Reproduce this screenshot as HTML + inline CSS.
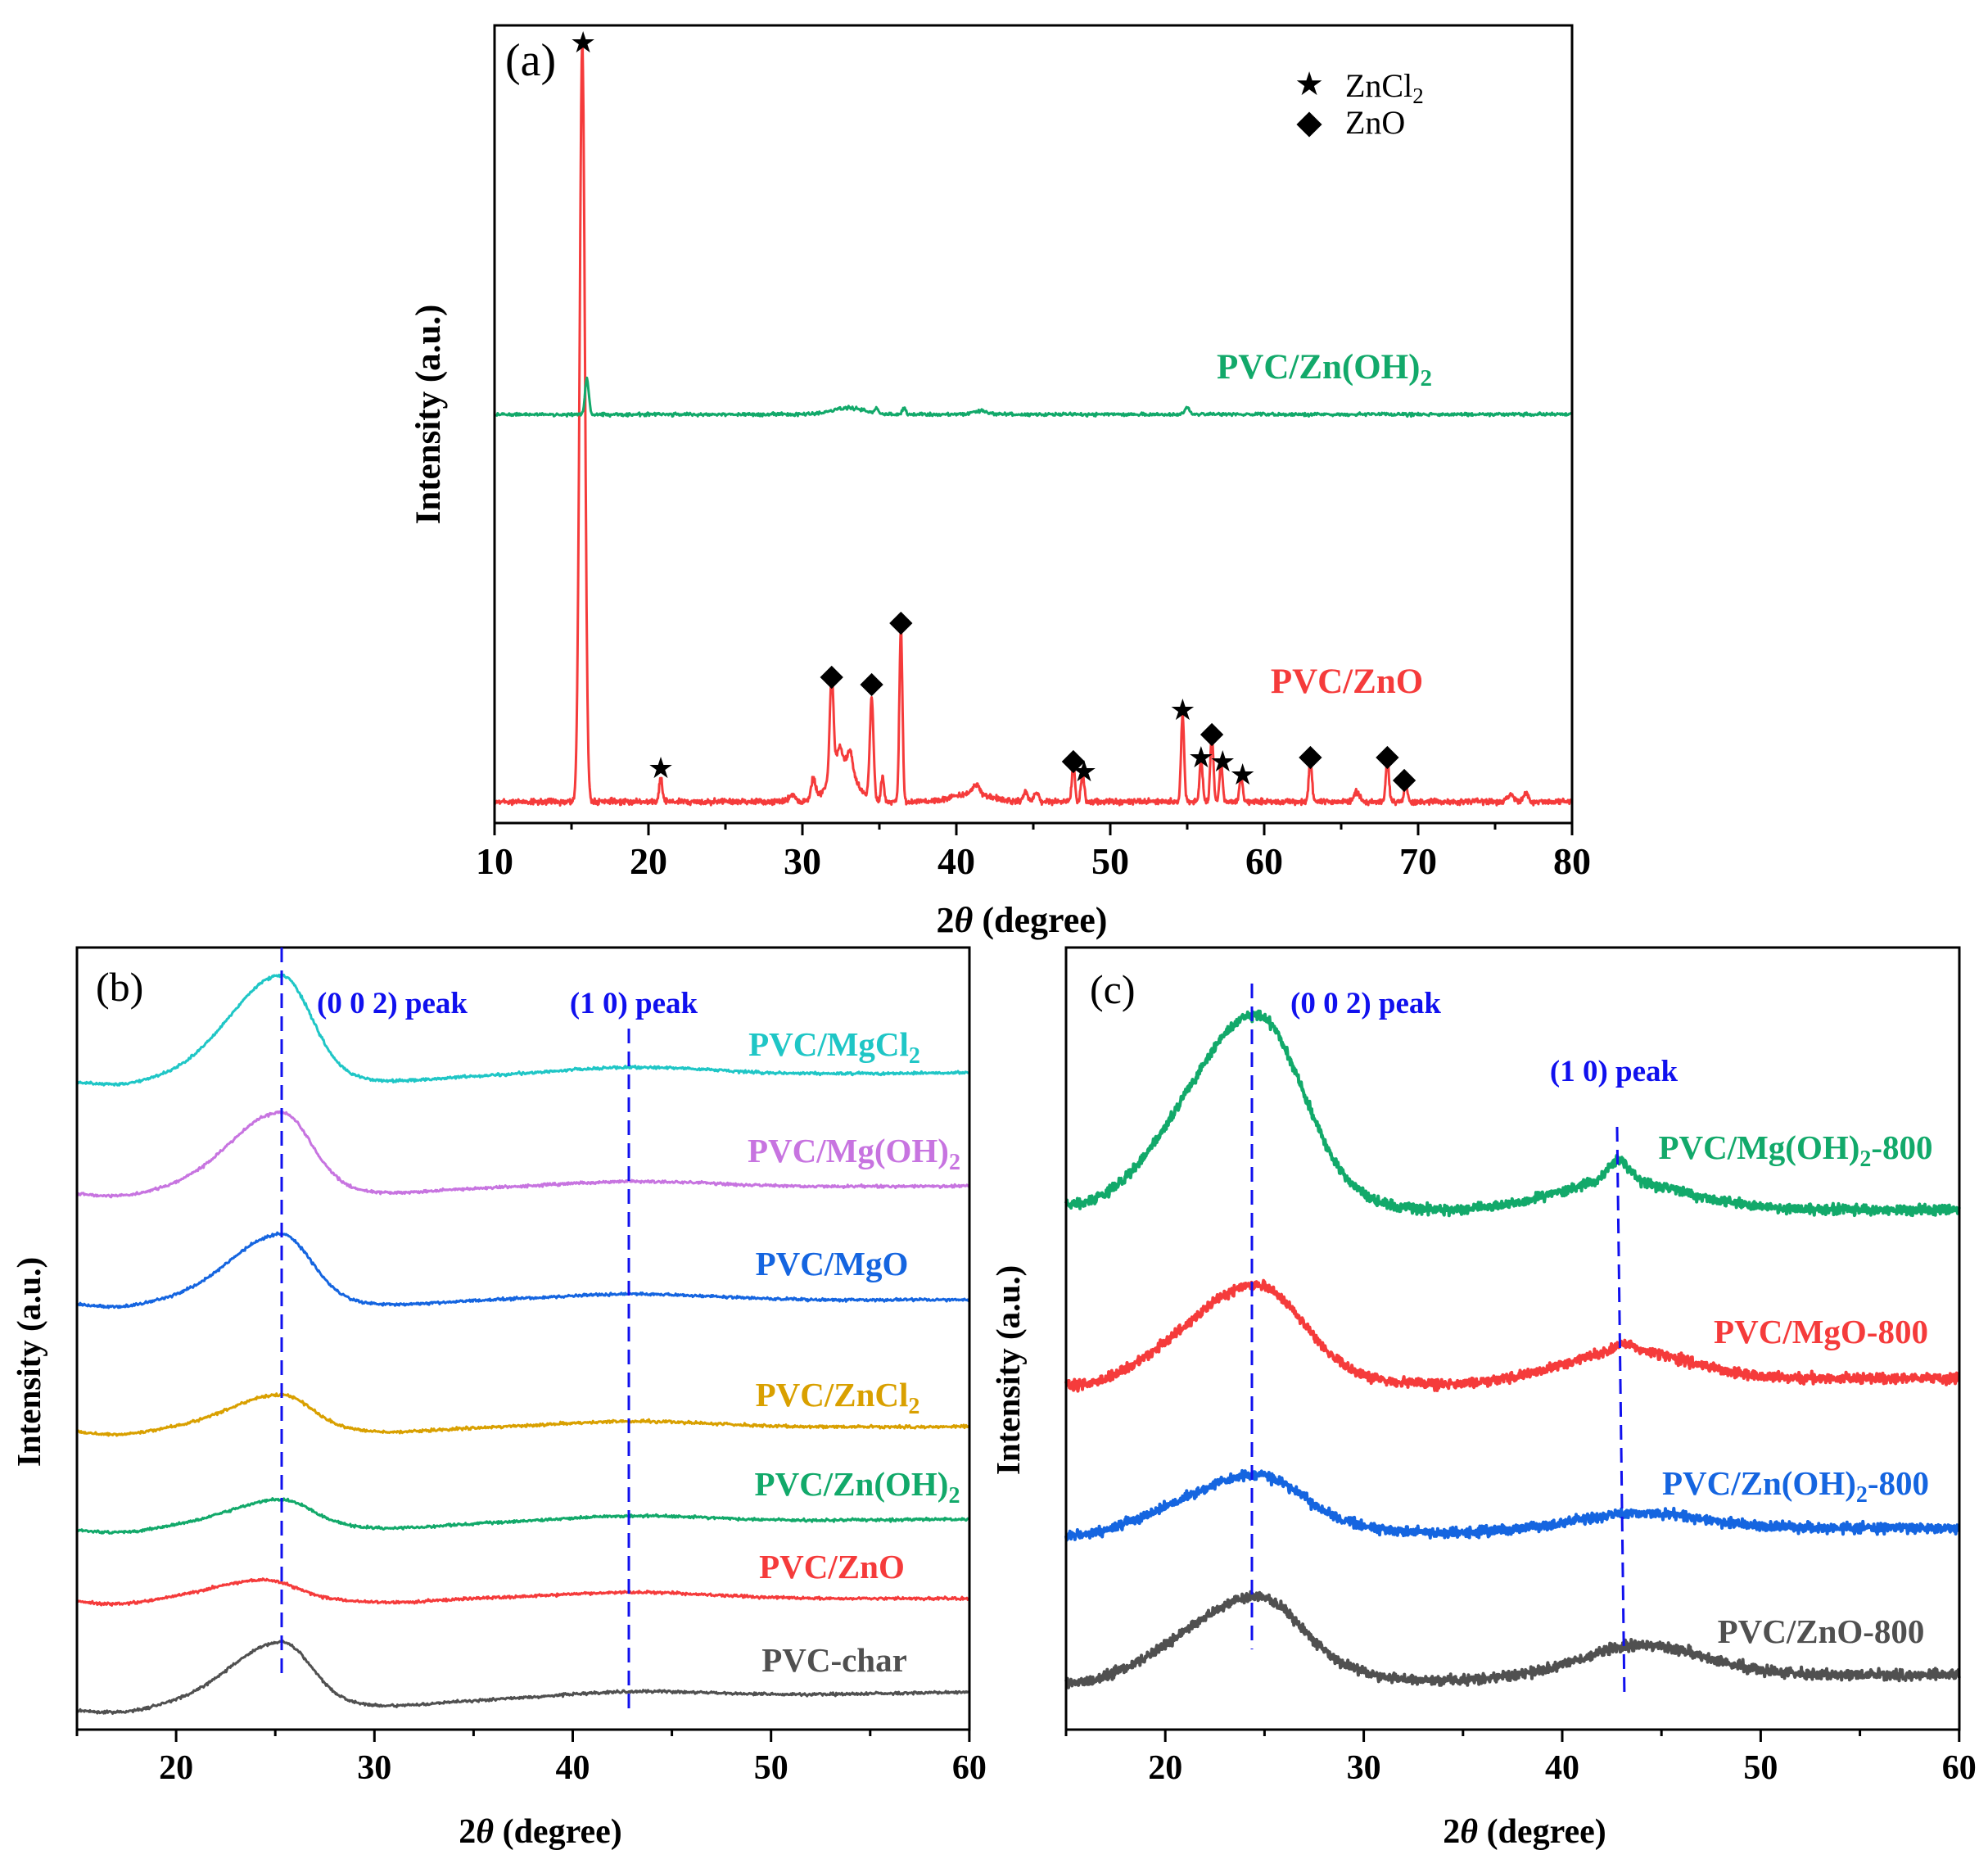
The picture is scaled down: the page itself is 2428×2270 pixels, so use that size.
<!DOCTYPE html>
<html><head><meta charset="utf-8"><style>
html,body{margin:0;padding:0;background:#fff;}
svg{display:block;}
text{font-family:"Liberation Serif",serif;}
</style></head><body>
<svg id="s" width="2428" height="2270" viewBox="0 0 2428 2270" xmlns="http://www.w3.org/2000/svg">
<g id="curves"></g>
<rect x="604" y="31" width="1316" height="974" fill="none" stroke="#000" stroke-width="3"/>
<g id="ta"></g>
<text x="617" y="92" font-size="56">(a)</text>
<text x="1599" y="116" font-size="40" text-anchor="middle">★</text>
<rect x="1588" y="141" width="22" height="22" transform="rotate(45 1599 152)" fill="#000"/>
<text x="1643" y="118" font-size="40">ZnCl<tspan font-size="27" dy="8">2</tspan></text>
<text x="1643" y="163" font-size="40">ZnO</text>
<text x="1486" y="462" font-size="43" font-weight="bold" fill="#12a96a">PVC/Zn(OH)<tspan font-size="29" dy="9">2</tspan></text>
<text x="1645" y="846" font-size="43" font-weight="bold" fill="#f53b3b" text-anchor="middle">PVC/ZnO</text>
<text x="1248" y="1138" font-size="44" font-weight="bold" text-anchor="middle">2<tspan font-style="italic">θ</tspan> (degree)</text>
<text transform="translate(537 506) rotate(-90)" font-size="43" font-weight="bold" text-anchor="middle">Intensity (a.u.)</text>
<rect x="94" y="1157" width="1090" height="955" fill="none" stroke="#000" stroke-width="3"/>
<g id="tb"></g>
<line x1="344" y1="1157" x2="344" y2="2047" stroke="#1010ee" stroke-width="3" stroke-dasharray="18,10"/>
<line x1="768" y1="1256" x2="768" y2="2095" stroke="#1010ee" stroke-width="3" stroke-dasharray="18,10"/>
<text x="117" y="1222" font-size="50">(b)</text>
<text x="479" y="1237" font-size="37" font-weight="bold" fill="#1010ee" text-anchor="middle">(0 0 2) peak</text>
<text x="774" y="1237" font-size="37" font-weight="bold" fill="#1010ee" text-anchor="middle">(1 0) peak</text>
<g font-size="41" font-weight="bold" text-anchor="middle">
<text x="1019" y="1289" fill="#1fc6c6">PVC/MgCl<tspan font-size="28" dy="9">2</tspan></text>
<text x="1043" y="1419" fill="#c774e0">PVC/Mg(OH)<tspan font-size="28" dy="9">2</tspan></text>
<text x="1016" y="1557" fill="#1565e0">PVC/MgO</text>
<text x="1023" y="1717" fill="#d9a000">PVC/ZnCl<tspan font-size="28" dy="9">2</tspan></text>
<text x="1047" y="1826" fill="#12a96a">PVC/Zn(OH)<tspan font-size="28" dy="9">2</tspan></text>
<text x="1016" y="1927" fill="#f53b3b">PVC/ZnO</text>
<text x="1019" y="2041" fill="#505050">PVC-char</text>
</g>
<text x="660" y="2250" font-size="42" font-weight="bold" text-anchor="middle">2<tspan font-style="italic">θ</tspan> (degree)</text>
<text transform="translate(49 1663) rotate(-90)" font-size="41" font-weight="bold" text-anchor="middle">Intensity (a.u.)</text>
<rect x="1302" y="1157" width="1091" height="955" fill="none" stroke="#000" stroke-width="3"/>
<g id="tc"></g>
<line x1="1529" y1="1201" x2="1529" y2="2014" stroke="#1010ee" stroke-width="3" stroke-dasharray="18,10"/>
<line x1="1975" y1="1376" x2="1984" y2="2075" stroke="#1010ee" stroke-width="3" stroke-dasharray="18,10"/>
<text x="1331" y="1225" font-size="50">(c)</text>
<text x="1668" y="1237" font-size="37" font-weight="bold" fill="#1010ee" text-anchor="middle">(0 0 2) peak</text>
<text x="1971" y="1320" font-size="37" font-weight="bold" fill="#1010ee" text-anchor="middle">(1 0) peak</text>
<g font-size="41" font-weight="bold" text-anchor="middle">
<text x="2193" y="1415" fill="#12a96a">PVC/Mg(OH)<tspan font-size="28" dy="9">2</tspan><tspan dy="-9">-800</tspan></text>
<text x="2224" y="1640" fill="#f53b3b">PVC/MgO-800</text>
<text x="2193" y="1825" fill="#1565e0">PVC/Zn(OH)<tspan font-size="28" dy="9">2</tspan><tspan dy="-9">-800</tspan></text>
<text x="2224" y="2006" fill="#505050">PVC/ZnO-800</text>
</g>
<text x="1862" y="2250" font-size="42" font-weight="bold" text-anchor="middle">2<tspan font-style="italic">θ</tspan> (degree)</text>
<text transform="translate(1245 1673) rotate(-90)" font-size="41" font-weight="bold" text-anchor="middle">Intensity (a.u.)</text>
<g id="marks"></g>
</svg>
<script>
var NS="http://www.w3.org/2000/svg";
var seed=12345;function rnd(){seed=(seed*1103515245+12345)%2147483648;return seed/2147483648;}
function nz(){return (rnd()+rnd()+rnd()-1.5)/1.5;}
function el(g,tag,attrs,txt){var e=document.createElementNS(NS,tag);for(var k in attrs)e.setAttribute(k,attrs[k]);if(txt!==undefined)e.textContent=txt;document.getElementById(g).appendChild(e);return e;}
function G(x,c,s){return Math.exp(-(x-c)*(x-c)/(2*s*s));}
function AG(x,c,sl,sr){return G(x,c,x<c?sl:sr);}
function curve(x0,x1,px0,ppd,n,f,color,w){var d="";for(var i=0;i<=n;i++){var x=x0+(x1-x0)*i/n;var y=f(x);d+=(i?"L":"M")+(px0+(x-x0)*ppd).toFixed(1)+" "+y.toFixed(1);}
el("curves","path",{d:d,fill:"none",stroke:color,"stroke-width":w,"stroke-linejoin":"round"});}
function ticks(g,x0,x1,px0,ppd,y,step,fs,ly){for(var v=x0;v<=x1+1e-6;v+=step/2){var px=px0+(v-x0)*ppd;var maj=Math.abs(v/step-Math.round(v/step))<1e-6;el(g,"line",{x1:px,y1:y,x2:px,y2:y+(maj?15:8),stroke:"#000","stroke-width":3});if(maj)el(g,"text",{x:px,y:ly,"font-size":fs,"font-weight":"bold","text-anchor":"middle"},String(v));}}
ticks("ta",10,80,604,18.8,1005,10,46,1067);
ticks("tb",15,60,94,24.22,2112,10,42,2172);
ticks("tc",15,60,1302,24.24,2112,10,42,2172);
var pk=[[15.7,928,0.17],[20.8,30,0.1],[31.9,122,0.12],[34.5,125,0.12],[36.4,212,0.1],[47.6,44,0.1],[48.2,37,0.1],[54.7,107,0.1],[55.9,52,0.1],[56.6,81,0.1],[57.2,48,0.1],[58.5,33,0.1],[63.0,52,0.1],[68.0,52,0.1],[69.2,22,0.1],[30.7,25,0.15],[35.2,30,0.1],[41.3,12,0.2],[44.5,12,0.15],[45.2,12,0.15],[66.0,12,0.2],[76,8,0.2],[77,10,0.15],[29.3,8,0.2],[32.4,20,0.15],[33.1,22,0.15]];
curve(10,80,604,18.8,2400,function(x){var y=979+nz()*5;for(var i=0;i<pk.length;i++)y-=pk[i][1]*G(x,pk[i][0],pk[i][2]);y-=50*G(x,32.6,0.8)+10*G(x,41,1.2);return y;},"#f53b3b",3);
curve(10,80,604,18.8,1400,function(x){var y=506+nz()*3;y-=44*G(x,16,0.12)+8*G(x,33,1)+8*G(x,36.6,0.1)+6*G(x,34.8,0.1)+8*G(x,55,0.15)+4*G(x,41.5,0.5);return y;},"#12a96a",3);
var B=[[1319,1310,1183,"#1fc6c6"],[1455,1448,1350,"#c774e0"],[1590,1587,1499,"#1565e0"],[1746,1742,1695,"#d9a000"],[1866,1855,1823,"#12a96a"],[1953,1952,1921,"#f53b3b"],[2086,2066,1997,"#505050"]];
B.forEach(function(b,k){var c=(k==5?24.5:25.3);var base=function(x){return b[0]+(b[1]-b[0])*(x-15)/45;};var h=base(c)-b[2]-8;var bump=Math.max(8,(b[1]-b[2])*0.08);
curve(15,60,94,24.22,1100,function(x){var y=base(x)+nz()*2.5;y-=h*AG(x,c,2.6,1.5);y+=6*G(x,17,1.5)+4*G(x,31,2);y-=bump*G(x,43,4);return y;},b[3],3);});
var C=[[1467,1478,1235,1420,"#12a96a",42.8,1],[1685,1683,1565,1641,"#f53b3b",43.2,0.4],[1866,1866,1797,1848,"#1565e0",44,0],[2047,2045,1946,2008,"#505050",44,0]];
C.forEach(function(b){var base=function(x){return b[0]+(b[1]-b[0])*(x-15)/45;};var h=base(24.6)-b[2]-4;var bh=b[1]-b[3];
curve(15,60,1302,24.24,1800,function(x){var y=base(x)+nz()*9;y-=h*AG(x,24.6,3.4,2.3);y+=10*G(x,16,1.5)+6*G(x,34,2.5);y-=bh*((1-b[6]*0.45)*AG(x,b[5],2.8,3.2)+b[6]*0.45*G(x,b[5],0.5));return y;},b[4],4);});
function star(x,y){el("marks","text",{x:x,y:y+12,"font-size":36,"text-anchor":"middle"},"★");}
function dia(x,y){el("marks","rect",{x:x-10,y:y-10,width:20,height:20,fill:"#000",transform:"rotate(45 "+x+" "+y+")"});}
function X(v){return 604+(v-10)*18.8;}
star(X(15.75),52);star(X(20.8),938);star(X(48.3),942);star(X(54.7),867);star(X(55.9),925);star(X(57.3),930);star(X(58.6),946);
dia(X(31.9),827);dia(X(34.5),836);dia(X(36.4),761);dia(X(47.6),930);dia(X(56.6),897);dia(X(63.0),925);dia(X(68.0),925);dia(X(69.1),953);
</script>
</body></html>
